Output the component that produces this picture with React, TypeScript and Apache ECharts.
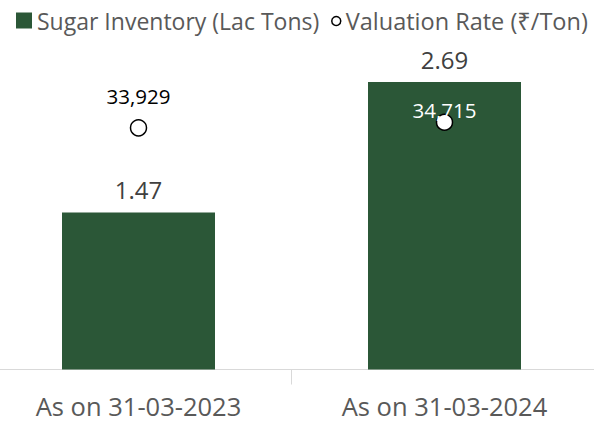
import React, { useEffect, useRef } from "react";
import * as echarts from "echarts";

const categories = ["As on 31-03-2023", "As on 31-03-2024"];
const inventory = [1.47, 2.69];
const valuation = [33929, 34715];
const seriesNames = ["Sugar Inventory (Lac Tons)", "Valuation Rate (₹/Ton)"];

const FONT = "'Open Sans', 'Noto Sans', sans-serif";

export default function App() {
  const ref = useRef<HTMLDivElement>(null);
  useEffect(() => {
    if (!ref.current) return;
    const chart = echarts.init(ref.current, null, { renderer: "svg" });
    const valLabelColors = ["#000000", "#ffffff"];
    const valLabelOffsets = [-32, -12];
    chart.setOption({
      animation: false,
      textStyle: { fontFamily: FONT },
      legend: [
        {
          left: 11,
          top: 4,
          itemWidth: 16,
          itemHeight: 16,
          data: [{ name: seriesNames[0], icon: "rect" }],
          textStyle: { fontSize: 23, color: "#595959", fontFamily: FONT },
        },
        {
          left: 326,
          top: 4,
          itemWidth: 9,
          itemHeight: 9,
          data: [
            {
              name: seriesNames[1],
              icon: "circle",
              itemStyle: { color: "#ffffff", borderColor: "#000000", borderWidth: 1.5 },
            },
          ],
          textStyle: { fontSize: 23.5, color: "#595959", fontFamily: FONT },
        },
      ],
      grid: {
        left: -14.5,
        width: 612,
        top: 49,
        bottom: 52.5,
        containLabel: false,
        outerBoundsMode: "none",
      },
      xAxis: {
        type: "category",
        data: categories,
        axisLine: { lineStyle: { color: "#d9d9d9", width: 1 } },
        axisTick: { show: true, length: 15, lineStyle: { color: "#d9d9d9" } },
        axisLabel: { fontSize: 25.5, color: "#595959", margin: 23, fontFamily: FONT },
      },
      yAxis: [
        { type: "value", min: 0, max: 3, show: false },
        { type: "value", min: 0, max: 45000, show: false },
      ],
      series: [
        {
          name: seriesNames[0],
          type: "bar",
          yAxisIndex: 0,
          data: inventory,
          barWidth: 153,
          itemStyle: { color: "#2b5737" },
          label: {
            show: true,
            position: "top",
            distance: 11,
            fontSize: 24,
            color: "#404040",
            fontFamily: FONT,
            formatter: (p: any) => p.value.toFixed(2),
          },
        },
        {
          name: seriesNames[1],
          type: "scatter",
          yAxisIndex: 1,
          symbol: "circle",
          symbolSize: 16,
          itemStyle: { color: "#ffffff", borderColor: "#000000", borderWidth: 1.5, opacity: 1 },
          z: 5,
          data: valuation.map((v, i) => ({
            value: v,
            label: {
              show: true,
              position: "inside",
              offset: [0, valLabelOffsets[i]],
              fontSize: 20.5,
              color: valLabelColors[i],
              fontFamily: FONT,
              formatter: (p: any) => Number(p.value).toLocaleString("en-US"),
            },
          })),
        },
      ],
    });
    return () => chart.dispose();
  }, []);
  return <div ref={ref} style={{ width: 594, height: 422, position: "absolute", left: 0, top: 0 }} />;
}
